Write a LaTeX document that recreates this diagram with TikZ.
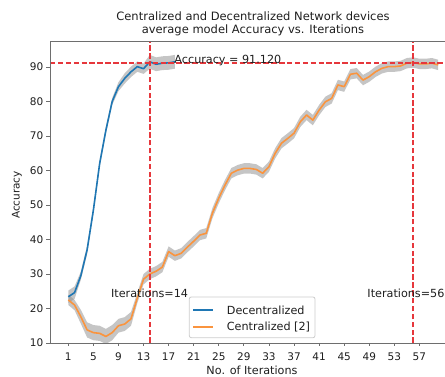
\documentclass[tikz,border=0pt]{standalone}
\usepackage{fontspec}
\setmainfont{DejaVu Sans}
\definecolor{bluel}{RGB}{31,119,180}
\definecolor{orangel}{RGB}{250,148,62}
\definecolor{redl}{RGB}{230,55,60}
\definecolor{bandc}{RGB}{140,140,140}
\definecolor{spinec}{RGB}{110,110,110}
\definecolor{txt}{RGB}{30,30,30}
\tikzset{
  spine/.style={draw=spinec,line width=0.9pt},
  tickmark/.style={draw=spinec,line width=0.8pt},
  ticklab/.style={font=\fontsize{10.5}{12}\selectfont,text=txt,inner sep=0pt},
  lab/.style={font=\fontsize{11.2}{13}\selectfont,text=txt,inner sep=0pt},
  band/.style={fill=bandc,fill opacity=0.5},
  bluecurve/.style={draw=bluel,line width=1.6pt,line join=round},
  orangecurve/.style={draw=orangel,line width=1.6pt,line join=round},
  reddash/.style={draw=redl,line width=1.5pt,dash pattern=on 5.5pt off 2.4pt},
  legendbox/.style={draw=black!20,fill=white,fill opacity=0.8,rounded corners=2pt,line width=0.8pt},
}
\begin{document}
\begin{tikzpicture}[x=1pt,y=1pt]
\useasboundingbox (0,0) rectangle (445,377);
% title
\node[lab,font=\fontsize{11.5}{13}\selectfont,anchor=base] (title1) at (253,356.3) {Centralized and Decentralized Network devices};
\node[lab,font=\fontsize{11.5}{13}\selectfont,anchor=base] (title2) at (253,343.7) {average model Accuracy vs. Iterations};
% data scope
\begin{scope}[x=6.27pt,y=3.45pt,shift={(62.03pt,-0.5pt)}]
\begin{scope}
\clip (-1.92,10) rectangle (61.08,97.54);
% bands
\fill[band] (1,25.2) -- (2,26.4) -- (3,30.7) -- (4,38.2) -- (5,49.5) -- (6,63) -- (7,72.7) -- (8,81) -- (9,85.6) -- (10,88.2) -- (11,90.1) -- (12,91.6) -- (13,91) -- (14,93.5) -- (15,92.8) -- (16,93.1) -- (17,93.2) -- (18,93.5)
 -- (18,89.5) -- (17,89.2) -- (16,89.1) -- (15,88.8) -- (14,89.5) -- (13,88) -- (12,88.6) -- (11,87.1) -- (10,85.2) -- (9,83) -- (8,79) -- (7,70.7) -- (6,61) -- (5,47.5) -- (4,35.8) -- (3,28.3) -- (2,22.8) -- (1,21.6) -- cycle;
\fill[band] (1,24) -- (2,22.5) -- (3,19.6) -- (4,16) -- (5,15.2) -- (6,15) -- (7,14.1) -- (8,15.2) -- (9,17) -- (10,17.5) -- (11,19) -- (12,24.5) -- (13,30) -- (14,31.5) -- (15,32.3) -- (16,33.5) -- (17,38) -- (18,36.8) -- (19,37.5) -- (20,39.3) -- (21,41) -- (22,42.8) -- (23,43.3) -- (24,49.2) -- (25,53.5) -- (26,57.3) -- (27,60.7) -- (28,61.6) -- (29,62.1) -- (30,62.1) -- (31,61.8) -- (32,60.7) -- (33,62.6) -- (34,66.5) -- (35,69.4) -- (36,70.8) -- (37,72.3) -- (38,75.6) -- (39,77.6) -- (40,76.1) -- (41,79) -- (42,81.4) -- (43,82.4) -- (44,86.3) -- (45,85.8) -- (46,89.4) -- (47,89.7) -- (48,87.7) -- (49,88.7) -- (50,90.1) -- (51,91.1) -- (52,91.6) -- (53,91.6) -- (54,91.8) -- (55,92.6) -- (56,92.8) -- (57,92.4) -- (58,92.4) -- (59,92.6) -- (60,92.1)
 -- (60,89.1) -- (59,89.6) -- (58,89.4) -- (57,89.4) -- (56,89.8) -- (55,89.6) -- (54,88.8) -- (53,88.6) -- (52,88.6) -- (51,88.1) -- (50,87.1) -- (49,85.7) -- (48,84.7) -- (47,86.7) -- (46,86.4) -- (45,82.8) -- (44,83.3) -- (43,79.4) -- (42,78.4) -- (41,76) -- (40,73.1) -- (39,74.6) -- (38,72.6) -- (37,69.3) -- (36,67.8) -- (35,66.4) -- (34,63.5) -- (33,59.6) -- (32,57.7) -- (31,58.8) -- (30,59.1) -- (29,59.1) -- (28,58.6) -- (27,57.7) -- (26,54.3) -- (25,50.5) -- (24,46.2) -- (23,40.3) -- (22,39.8) -- (21,38) -- (20,36.3) -- (19,34.5) -- (18,33.8) -- (17,35) -- (16,30.5) -- (15,29.3) -- (14,28.5) -- (13,27) -- (12,21.5) -- (11,15) -- (10,13.5) -- (9,13) -- (8,10.8) -- (7,9.7) -- (6,10.6) -- (5,10.8) -- (4,11.6) -- (3,15.6) -- (2,19.5) -- (1,21) -- cycle;
% curves
\draw[bluecurve] plot coordinates {(1,23.4) (2,24.6) (3,29.5) (4,37) (5,48.5) (6,62) (7,71.7) (8,80) (9,84.3) (10,86.7) (11,88.6) (12,90.1) (13,89.5) (14,91.5) (15,90.8) (16,91.1) (17,91.2) (18,91.5)};
\draw[orangecurve] plot coordinates {(1,22.5) (2,21) (3,17.6) (4,13.8) (5,13) (6,12.8) (7,11.9) (8,13) (9,15) (10,15.5) (11,17) (12,23) (13,28.5) (14,30) (15,30.8) (16,32) (17,36.5) (18,35.3) (19,36) (20,37.8) (21,39.5) (22,41.3) (23,41.8) (24,47.7) (25,52) (26,55.8) (27,59.2) (28,60.1) (29,60.6) (30,60.6) (31,60.3) (32,59.2) (33,61.1) (34,65) (35,67.9) (36,69.3) (37,70.8) (38,74.1) (39,76.1) (40,74.6) (41,77.5) (42,79.9) (43,80.9) (44,84.8) (45,84.3) (46,87.9) (47,88.2) (48,86.2) (49,87.2) (50,88.6) (51,89.6) (52,90.1) (53,90.1) (54,90.3) (55,91.1) (56,91.3) (57,90.9) (58,90.9) (59,91.1) (60,90.6)};
% reference lines
\coordinate (hl) at (-1.92,91.12);
\coordinate (hr) at (61.08,91.12);
\coordinate (v14b) at (14,10);
\coordinate (v14t) at (14,97.54);
\coordinate (v56b) at (56,10);
\coordinate (v56t) at (56,97.54);
\draw[reddash] (hl) -- (hr);
\draw[reddash] (v14b) -- (v14t);
\draw[reddash] (v56b) -- (v56t);
\end{scope}
% x ticks
\foreach \t in {1,5,...,57} {
  \draw[tickmark] (\t,10) -- ++(0,-3.5pt);
  \node[ticklab,anchor=base] (xt\t) at ([yshift=-18pt]\t,10) {\t};
}
% y ticks
\foreach \v in {10,20,...,90} {
  \draw[tickmark] (-1.92,\v) -- ++(-3.5pt,0);
  \node[ticklab,anchor=east] (yt\v) at ([xshift=-6.5pt]-1.92,\v) {\v};
}
% annotations
\node[lab,anchor=base west] (acc) at (17.9,91.12) {Accuracy = 91.120};
\node[lab,anchor=base west] (it14) at (7.8,23.3) {Iterations=14};
\node[lab,anchor=base west] (it56) at (48.68,23.3) {Iterations=56};
\end{scope}
% spines
\draw[spine] (445,336) -- (50,336) -- (50,34) -- (445,34);
% axis labels
\node[lab,anchor=base] (xlab) at (252,2) {No. of Iterations};
\node[lab,font=\fontsize{10.5}{12}\selectfont,anchor=base,rotate=90] (ylab) at (19.5,182) {Accuracy};
% legend
\draw[legendbox] (189.3,39.3) rectangle (315,80);
\coordinate (lb1) at (193.3,67);
\coordinate (lb2) at (213.3,67);
\coordinate (lo1) at (193.3,49.7);
\coordinate (lo2) at (213.3,49.7);
\draw[bluecurve] (lb1) -- (lb2);
\draw[orangecurve] (lo1) -- (lo2);
\node[lab,anchor=base west] (legd) at (226.7,62.7) {Decentralized};
\node[lab,anchor=base west] (legc) at (226.7,46) {Centralized [2]};
\end{tikzpicture}
\end{document}
